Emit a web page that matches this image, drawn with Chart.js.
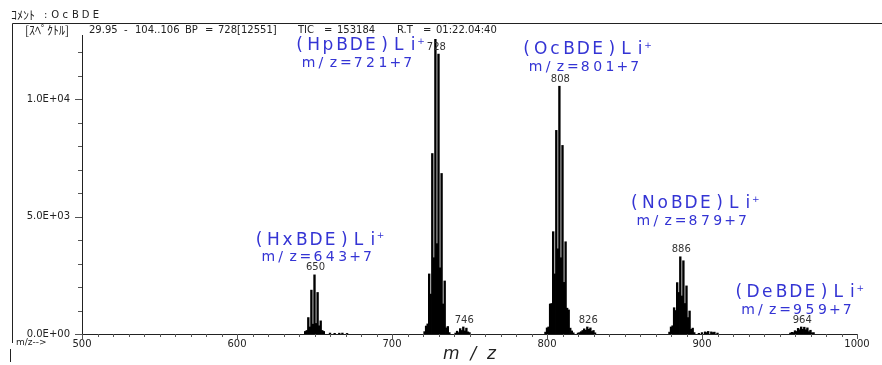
<!DOCTYPE html>
<html>
<head>
<meta charset="utf-8">
<script src="https://cdn.jsdelivr.net/npm/chart.js@4.4.1/dist/chart.umd.min.js"></script>
<style>
  html, body { margin: 0; padding: 0; background: #fff; }
  #wrap { width: 882px; height: 365px; }
</style>
</head>
<body>
<div id="wrap"><canvas id="c" width="882" height="365"></canvas></div>
<script>
// m/z axis and intensity axis
const mzMin = 500, mzMax = 1000;
const yMax = 12740;
const yTickValues = [0, 5000, 10000];
const yTickLabels = ['0.0E+00', '5.0E+03', '1.0E+04'];

// HxBDE cluster (643+7)
const hxMz  = [644, 645, 646, 647, 648, 649, 650, 651, 652, 653, 654, 655, 656, 660, 663, 666, 668, 671];
const hxInt = [110, 150, 700, 300, 1870, 420, 2520, 450, 1770, 350, 560, 150, 110, 40, 30, 35, 40, 25];

// HpBDE cluster (721+7)
const hpMz  = [721, 722, 723, 724, 725, 726, 727, 728, 729, 730, 731, 732, 733, 734, 735, 736, 737,
               741, 742, 743, 744, 745, 746, 747, 748, 749, 750];
const hpInt = [100, 340, 430, 2560, 1700, 7690, 3250, 12551, 3850, 11925, 2820, 6840, 1280, 2260, 260, 320, 60,
               40, 120, 60, 230, 150, 300, 130, 250, 90, 60];

// OcBDE cluster (801+7)
const ocMz  = [799, 800, 801, 802, 803, 804, 805, 806, 807, 808, 809, 810, 811, 812, 813, 814, 815, 816, 817,
               820, 821, 822, 823, 824, 825, 826, 827, 828, 829, 830, 831];
const ocInt = [80, 260, 300, 1280, 1300, 4360, 2560, 8676, 3630, 10557, 3250, 8035, 2200, 3930, 1100, 1025, 250, 130, 50,
               40, 60, 100, 150, 220, 160, 300, 200, 260, 110, 150, 50];

// NoBDE cluster (879+7)
const noMz  = [879, 880, 881, 882, 883, 884, 885, 886, 887, 888, 889, 890, 891, 892, 893, 894, 895,
               898, 900, 902, 903, 904, 906, 907, 908, 910];
const noInt = [80, 300, 350, 1120, 1000, 2190, 1770, 3290, 1620, 3120, 1300, 2050, 700, 980, 200, 250, 60,
               30, 60, 90, 60, 110, 90, 60, 80, 40];

// DeBDE cluster (959+7)
const deMz  = [957, 958, 959, 960, 961, 962, 963, 964, 965, 966, 967, 968, 969, 970, 971, 972];
const deInt = [40, 70, 60, 140, 110, 240, 180, 300, 200, 290, 180, 260, 100, 160, 50, 60];

// labelled peaks
const peakLabels = [650, 728, 746, 808, 826, 886, 964];

// blue annotations: line1, line2, where line1 starts (m/z) and sits (intensity)
const annoLine1 = ['(HxBDE)Li', '(HpBDE)Li', '(OcBDE)Li', '(NoBDE)Li', '(DeBDE)Li'];
const annoLine2 = ['m/z=643+7', 'm/z=721+7', 'm/z=801+7', 'm/z=879+7', 'm/z=959+7'];
const annoMz    = [611, 637, 783.5, 853, 920.5];
const annoY     = [4000, 12270, 12100, 5560, 1760];

// header line pieces and their x positions
const headPieces = ['29.95', '-', '104..106', 'BP', '=', '728[12551]', 'TIC', '=', '153184', 'R.T', '=', '01:22.04:40'];
const headX      = [89, 124, 135, 185, 205, 218, 298, 324, 337, 397, 423, 436];

const allMz = [].concat(hxMz, hpMz, ocMz, noMz, deMz);
const allInt = [].concat(hxInt, hpInt, ocInt, noInt, deInt);
const points = allMz.map((m, i) => ({ x: m, y: allInt[i] }));

const FONT = '"DejaVu Sans", "Noto Sans CJK JP", sans-serif';
const JFONT = '"Noto Sans CJK JP", "DejaVu Sans", sans-serif';

// one glyph per fixed-width cell, centred in it
function spaced(ctx, text, x, y, step) {
  ctx.textAlign = 'center';
  for (let i = 0; i < text.length; i++) {
    ctx.fillText(text[i], x + i * step + step / 2 - 2, y);
  }
  return x + text.length * step;
}

const decor = {
  id: 'decor',
  afterDraw(chart) {
    const ctx = chart.ctx;
    const xs = chart.scales.x, ys = chart.scales.y;
    const area = chart.chartArea;
    ctx.save();

    // header
    ctx.fillStyle = '#222';
    ctx.textBaseline = 'middle';
    ctx.textAlign = 'left';
    ctx.font = '12px ' + JFONT;
    ctx.fillText('ｺﾒﾝﾄ', 11, 15);
    ctx.font = '10px ' + FONT;
    ctx.fillText(':', 44, 15);
    spaced(ctx, 'OcBDE', 52, 15, 10.2);
    ctx.textAlign = 'left';
    ctx.font = '12px ' + JFONT;
    ctx.fillText('[ｽﾍﾟｸﾄﾙ]', 25, 30);
    ctx.font = '10px ' + FONT;
    headPieces.forEach((t, i) => ctx.fillText(t, headX[i], 30));

    // frame
    ctx.strokeStyle = '#222';
    ctx.lineWidth = 1;
    ctx.beginPath();
    ctx.moveTo(12.5, 343);
    ctx.lineTo(12.5, 23.5);
    ctx.lineTo(882, 23.5);
    ctx.moveTo(10.5, 349);
    ctx.lineTo(10.5, 362);
    ctx.stroke();

    // y ticks
    ctx.strokeStyle = '#555';
    ctx.beginPath();
    for (let v = 0; v <= 12000; v += 1000) {
      const py = Math.round(ys.getPixelForValue(v)) + 0.5;
      const len = v % 5000 === 0 ? 7 : 4;
      ctx.moveTo(area.left, py);
      ctx.lineTo(area.left - len, py);
    }
    // x ticks
    for (let m = mzMin; m <= mzMax; m += 10) {
      const px = Math.round(xs.getPixelForValue(m)) + 0.5;
      const len = m % 100 === 0 ? 5 : 3;
      ctx.moveTo(px, area.bottom);
      ctx.lineTo(px, area.bottom + len);
    }
    ctx.stroke();

    // axis captions
    ctx.fillStyle = '#222';
    ctx.font = '9px ' + FONT;
    ctx.textAlign = 'left';
    ctx.fillText('m/z-->', 16, 343);
    ctx.font = 'italic 17px ' + FONT;
    ctx.textAlign = 'center';
    ctx.fillText('m  /  z', (area.left + area.right) / 2, 355);

    // peak labels
    ctx.font = '10px ' + FONT;
    ctx.fillStyle = '#333';
    ctx.textAlign = 'center';
    peakLabels.forEach(m => {
      const i = allMz.indexOf(m);
      const px = xs.getPixelForValue(m);
      const py = Math.max(ys.getPixelForValue(allInt[i]) - 7, area.top + 12);
      ctx.fillText(String(m), px + 1, py);
    });

    // blue annotations
    ctx.fillStyle = 'rgb(52,52,212)';
    annoLine1.forEach((t, k) => {
      const x0 = xs.getPixelForValue(annoMz[k]);
      const y0 = ys.getPixelForValue(annoY[k]);
      ctx.font = '17px ' + FONT;
      const end = spaced(ctx, t, x0, y0, 14.2);
      ctx.font = '9px ' + FONT;
      ctx.textAlign = 'left';
      ctx.fillText('+', end - 5, y0 - 4);
      ctx.font = '14px ' + FONT;
      spaced(ctx, annoLine2[k], x0 + 10, y0 + 17.5, 12.4);
    });

    ctx.restore();
  }
};

new Chart(document.getElementById('c'), {
  type: 'bar',
  data: {
    datasets: [{
      data: points,
      backgroundColor: '#000',
      borderWidth: 0,
      barThickness: 1.7,
      grouped: false
    }]
  },
  plugins: [decor],
  options: {
    responsive: false,
    animation: false,
    events: [],
    layout: { padding: { top: 35, right: 25, left: 0, bottom: 0 } },
    plugins: { legend: { display: false }, tooltip: { enabled: false } },
    scales: {
      x: {
        type: 'linear',
        min: mzMin,
        max: mzMax,
        offset: false,
        grid: { display: false, drawTicks: false, offset: false },
        border: { display: true, color: '#222', width: 1 },
        ticks: {
          stepSize: 100,
          padding: 4,
          maxRotation: 0,
          color: '#222',
          font: { family: FONT, size: 10 },
          callback: v => String(v)
        },
        afterFit(scale) { scale.height = 31; }
      },
      y: {
        min: 0,
        max: yMax,
        grid: { display: false, drawTicks: false },
        border: { display: true, color: '#222', width: 1 },
        ticks: {
          padding: 12,
          color: '#222',
          font: { family: FONT, size: 10 },
          callback: (v, i) => yTickLabels[i]
        },
        afterBuildTicks(scale) { scale.ticks = yTickValues.map(v => ({ value: v })); },
        afterFit(scale) { scale.width = 82; }
      }
    }
  }
});
</script>
</body>
</html>
